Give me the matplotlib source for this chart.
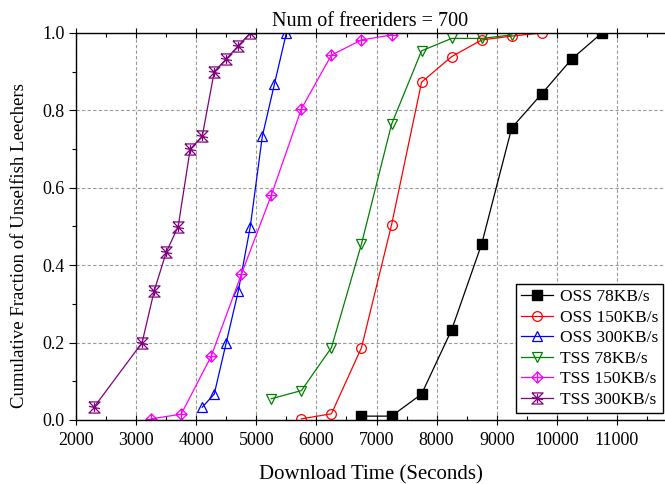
import matplotlib
matplotlib.use("Agg")
import matplotlib.pyplot as plt
from matplotlib.path import Path
from matplotlib.ticker import MultipleLocator, FormatStrFormatter

plt.rcParams['font.family'] = ['Liberation Serif', 'DejaVu Serif']

# Download-time CDFs, 700 free-riders
oss78_x = [6750, 7250, 7750, 8250, 8750, 9250, 9750, 10250, 10750]
oss78_y = [0.010, 0.010, 0.067, 0.233, 0.455, 0.755, 0.843, 0.933, 1.0]

oss150_x = [5750, 6250, 6750, 7250, 7750, 8250, 8750, 9250, 9750]
oss150_y = [0.003, 0.016, 0.187, 0.504, 0.873, 0.939, 0.982, 0.992, 1.0]

oss300_x = [4100, 4300, 4500, 4700, 4900, 5100, 5300, 5500]
oss300_y = [0.033, 0.067, 0.200, 0.333, 0.500, 0.733, 0.867, 1.0]

tss78_x = [5250, 5750, 6250, 6750, 7250, 7750, 8250, 8750, 9250]
tss78_y = [0.055, 0.076, 0.187, 0.455, 0.764, 0.954, 0.986, 0.986, 0.995]

tss150_x = [3250, 3750, 4250, 4750, 5250, 5750, 6250, 6750, 7250]
tss150_y = [0.003, 0.015, 0.165, 0.376, 0.581, 0.804, 0.943, 0.982, 0.995]

tss300_x = [2300, 3100, 3300, 3500, 3700, 3900, 4100, 4300, 4500, 4700, 4900]
tss300_y = [0.033, 0.200, 0.333, 0.433, 0.500, 0.700, 0.733, 0.900, 0.933, 0.967, 1.0]

labels = ["OSS 78KB/s", "OSS 150KB/s", "OSS 300KB/s",
          "TSS 78KB/s", "TSS 150KB/s", "TSS 300KB/s"]

# diamond with a cross inside
M, L, C = Path.MOVETO, Path.LINETO, Path.CLOSEPOLY
diamond_plus = Path(
    [(0, 1), (1, 0), (0, -1), (-1, 0), (0, 1),
     (0, 1), (0, -1), (-1, 0), (1, 0)],
    [M, L, L, L, C, M, L, M, L])
# hourglass with a diagonal cross and a centre bar
hourglass = Path(
    [(-1, 1), (1, 1), (-1, -1), (1, -1), (-1, 1),
     (0, 0.8), (0, -0.8), (-1, 0.2), (1, -0.2)],
    [M, L, L, L, L, M, L, M, L])

fig = plt.figure(figsize=(6.65, 4.84), dpi=100)
ax = fig.add_axes([76/665, 64/484, 589/665, 387/484])

lw = 0.9
ax.plot(oss78_x, oss78_y, color='black', lw=lw, marker='s', ms=6.5,
        mfc='black', mec='black', label=labels[0])
ax.plot(oss150_x, oss150_y, color='red', lw=lw, marker='o', ms=7,
        mfc='none', mec='red', mew=0.9, label=labels[1])
ax.plot(oss300_x, oss300_y, color='blue', lw=lw, marker='^', ms=7.5,
        mfc='none', mec='blue', mew=0.9, label=labels[2])
ax.plot(tss78_x, tss78_y, color='green', lw=lw, marker='v', ms=7.5,
        mfc='none', mec='green', mew=0.9, label=labels[3])
ax.plot(tss150_x, tss150_y, color='magenta', lw=lw, marker=diamond_plus, ms=8,
        mfc='none', mec='magenta', mew=0.9, label=labels[4])
ax.plot(tss300_x, tss300_y, color='purple', lw=lw, marker=hourglass, ms=8,
        mfc='none', mec='purple', mew=0.9, label=labels[5])

ax.set_xlim(2000, 11800)
ax.set_ylim(0, 1.0)
ax.xaxis.set_major_locator(MultipleLocator(1000))
ax.xaxis.set_minor_locator(MultipleLocator(500))
ax.yaxis.set_major_locator(MultipleLocator(0.2))
ax.yaxis.set_minor_locator(MultipleLocator(0.1))
ax.yaxis.set_major_formatter(FormatStrFormatter('%.1f'))

ax.grid(True, which='major', color='#999999', ls=(0, (3, 2)), lw=0.8)
ax.set_axisbelow(True)

ax.spines['right'].set_visible(False)
for s in ('left', 'bottom', 'top'):
    ax.spines[s].set_linewidth(1.0)

ax.tick_params(axis='y', which='major', direction='out', length=5, width=0.8,
               labelsize=13, pad=3)
ax.tick_params(axis='y', which='minor', direction='out', length=3, width=0.8)
ax.tick_params(axis='x', which='major', direction='inout', length=7, width=0.8,
               labelsize=13, top=True, pad=5)
ax.tick_params(axis='x', which='minor', direction='in', length=3, width=0.8,
               top=True)

ax.set_xlabel("Download Time (Seconds)", fontsize=15, labelpad=12)
ax.set_ylabel("Cumulative Fraction of Unselfish Leechers", fontsize=13.5,
              labelpad=8)
ax.yaxis.set_label_coords(-0.081, 0.45)
ax.set_title("Num of freeriders = 700", fontsize=14.5, pad=5)

leg = ax.legend(loc='lower right', bbox_to_anchor=(0.997, 0.018),
                borderaxespad=0, fontsize=12.5, frameon=True, fancybox=False,
                edgecolor='black', framealpha=1, handlelength=1.8,
                handletextpad=0.4, labelspacing=0.25, borderpad=0.3)
leg.get_frame().set_linewidth(1.0)

fig.savefig("out.png", dpi=100)
